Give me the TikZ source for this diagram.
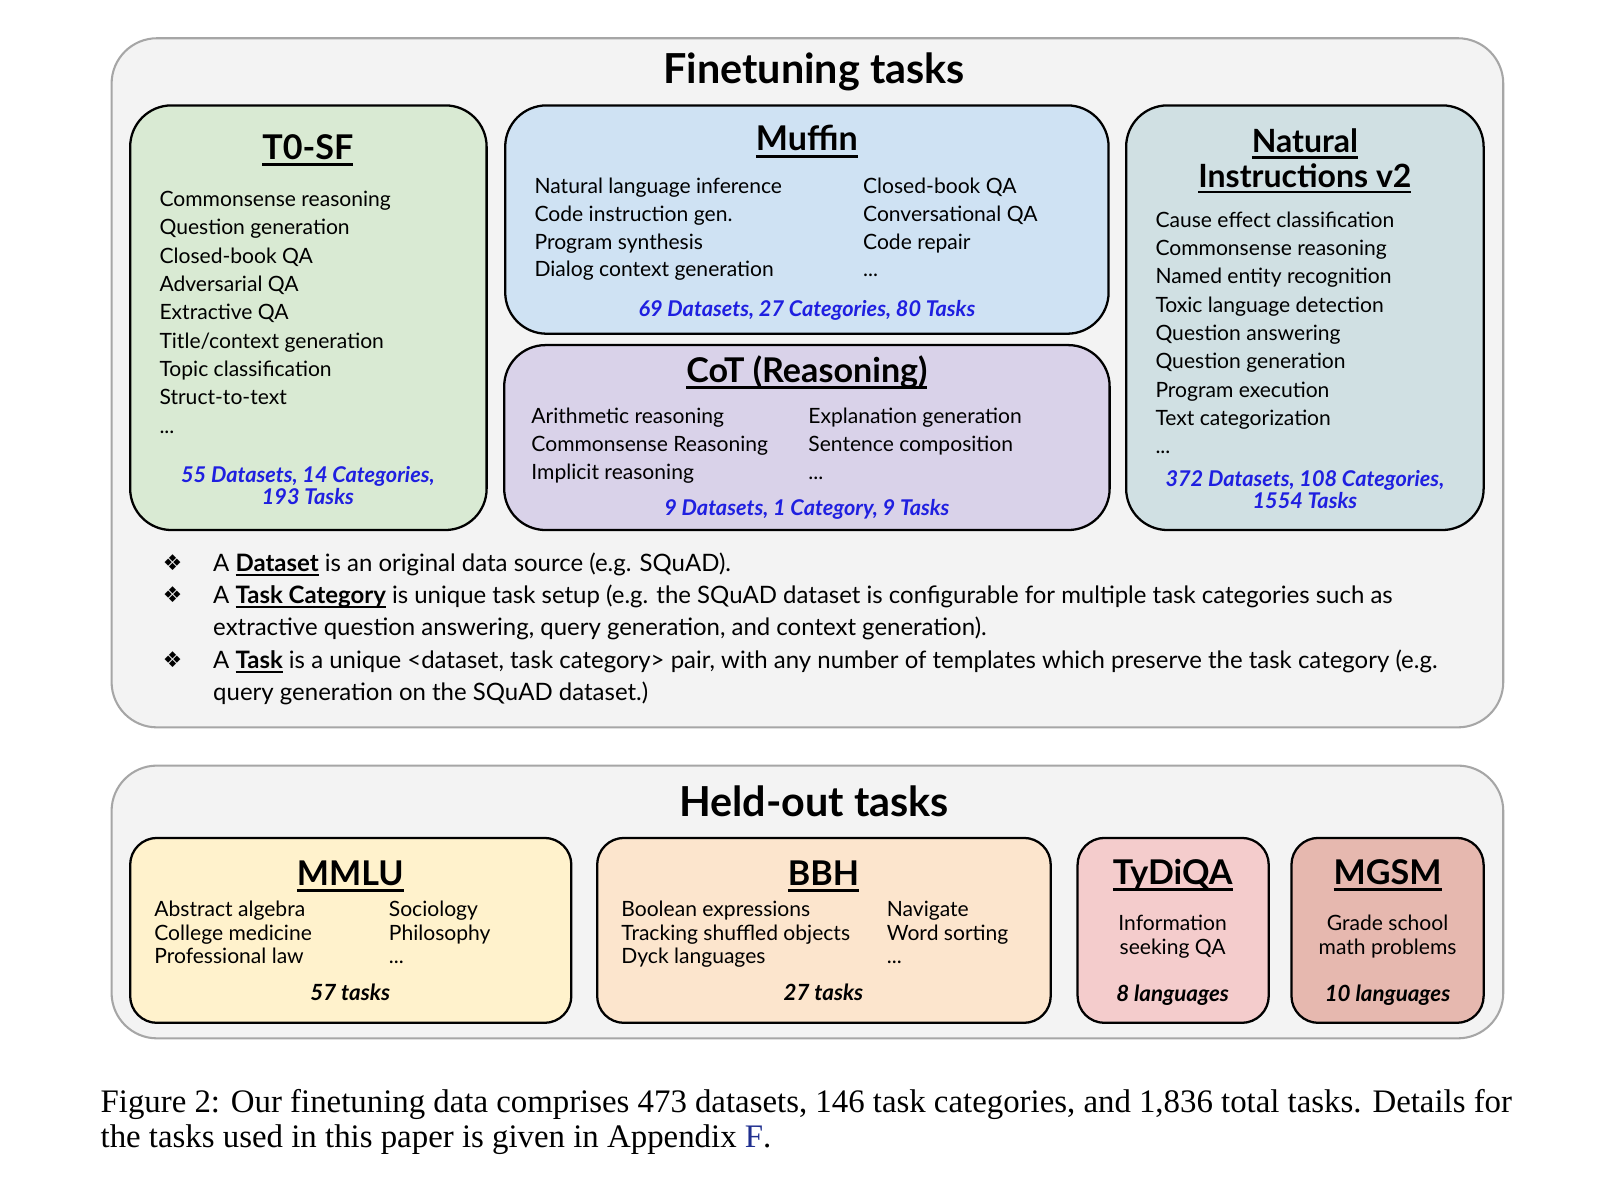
\documentclass[tikz,border=0pt]{standalone}
\usepackage{fontspec}
\setmainfont{Lato}
\newfontfamily\capfont{Liberation Serif}
\newfontfamily\symfont{DejaVu Sans}
\usetikzlibrary{fit}
\definecolor{outerfill}{HTML}{F3F3F3}
\definecolor{outerline}{HTML}{A6A6A6}
\definecolor{cgreen}{HTML}{D9EAD3}
\definecolor{cblue}{HTML}{CFE2F3}
\definecolor{cpurple}{HTML}{D9D2E9}
\definecolor{cteal}{HTML}{D0E0E3}
\definecolor{cyellow}{HTML}{FFF2CC}
\definecolor{corange}{HTML}{FCE5CD}
\definecolor{cpink}{HTML}{F4CCCC}
\definecolor{csalmon}{HTML}{E6B8AF}
\definecolor{footblue}{HTML}{1F1FE0}
\definecolor{linkblue}{HTML}{1F2F8F}
\newcommand\myul[1]{\setbox0=\hbox{#1}\rlap{\rule[-0.2em]{\wd0}{0.09em}}\box0\relax}
\newcommand\dts{...}
\tikzset{
  outer/.style={draw=outerline, fill=outerfill, line width=1pt, rounded corners=22pt, inner sep=0pt},
  tbox/.style={draw=black, line width=1.1pt, rounded corners=20pt, inner sep=0pt},
  hbox/.style={draw=black, line width=1.1pt, rounded corners=13pt, inner sep=0pt},
  item/.style={font=\fontsize{10.2}{12}\selectfont, anchor=base west, inner sep=0pt},
  citem/.style={font=\fontsize{10.2}{12}\selectfont, anchor=base, inner sep=0pt},
  foot/.style={font=\fontsize{10.5}{12}\selectfont\bfseries\itshape, text=footblue, anchor=base, inner sep=0pt},
  hfoot/.style={font=\fontsize{10.8}{12}\selectfont\bfseries\itshape, anchor=base, inner sep=0pt},
  ttl/.style={font=\fontsize{16.5}{19}\selectfont\bfseries, anchor=base, inner sep=0pt},
  big/.style={font=\fontsize{20}{23}\selectfont\bfseries, anchor=base, inner sep=0pt},
  bul/.style={font=\fontsize{11.6}{13}\selectfont, anchor=base west, inner sep=0pt},
  bsym/.style={font=\symfont\fontsize{10.5}{12}\selectfont, anchor=base, inner sep=0pt},
}
\begin{document}
\begin{tikzpicture}[x=0.5pt,y=-0.5pt]
\useasboundingbox (0,0) rectangle (1568,1148);
\fill[white] (0,0) rectangle (1568,1148);

% ---------- Finetuning ----------
\node[outer, fit={(108,37)(1455,704)}] (fin) {};
\node[big] (fint) at (788,81) {Finetuning tasks};

\node[tbox, fill=cgreen, fit={(126,102)(471,513)}] (t0) {};
\node[ttl] (t0t) at (298,154) {\myul{T0-SF}};
\foreach \t [count=\i from 0] in {Commonsense reasoning, Question generation, Closed-book QA, Adversarial QA, Extractive QA, Title/context generation, Topic classification, Struct-to-text, \dts}
  \node[item] (t0i\i) at (154,200+27.4*\i) {\t};
\node[foot] (t0f1) at (298,467) {55 Datasets, 14 Categories,};
\node[foot] (t0f2) at (298,488) {193 Tasks};

\node[tbox, fill=cblue, fit={(489,102)(1073,323)}] (mu) {};
\node[ttl] (mut) at (781,146) {\myul{Muffin}};
\foreach \t [count=\i from 0] in {Natural language inference, Code instruction gen., Program synthesis, Dialog context generation}
  \node[item] (mua\i) at (517,187+27*\i) {\t};
\foreach \t [count=\i from 0] in {Closed-book QA, Conversational QA, Code repair, \dts}
  \node[item] (mub\i) at (835,187+27*\i) {\t};
\node[foot] (muf) at (781,306) {69 Datasets, 27 Categories, 80 Tasks};

\node[tbox, fill=cpurple, fit={(488,334)(1074,513)}] (cot) {};
\node[ttl] (cott) at (781,370) {\myul{CoT (Reasoning)}};
\foreach \t [count=\i from 0] in {Arithmetic reasoning, Commonsense Reasoning, Implicit reasoning}
  \node[item] (cota\i) at (514,410+27*\i) {\t};
\foreach \t [count=\i from 0] in {Explanation generation, Sentence composition, \dts}
  \node[item] (cotb\i) at (782,410+27*\i) {\t};
\node[foot] (cotf) at (781,499) {9 Datasets, 1 Category, 9 Tasks};

\node[tbox, fill=cteal, fit={(1090,102)(1436,513)}] (ni) {};
\node[ttl, font=\fontsize{15.5}{18}\selectfont\bfseries] (nit1) at (1263,148) {\myul{Natural}};
\node[ttl, font=\fontsize{15.5}{18}\selectfont\bfseries] (nit2) at (1263,181) {\myul{Instructions v2}};
\foreach \t [count=\i from 0] in {Cause effect classification, Commonsense reasoning, Named entity recognition, Toxic language detection, Question answering, Question generation, Program execution, Text categorization, \dts}
  \node[item] (nii\i) at (1118,220+27.4*\i) {\t};
\node[foot] (nif1) at (1263,471) {372 Datasets, 108 Categories,};
\node[foot] (nif2) at (1263,492) {1554 Tasks};

% bullets
\node[bsym] (s1) at (167,552) {❖};
\node[bsym] (s2) at (167,583) {❖};
\node[bsym] (s3) at (167,646) {❖};
\node[bul] (b1) at (206,553) {A \myul{\bfseries Dataset} is an original data source (e.g. SQuAD).};
\node[bul] (b2) at (206,584) {A \myul{\bfseries Task Category} is unique task setup (e.g. the SQuAD dataset is configurable for multiple task categories such as};
\node[bul] (b3) at (206,615) {extractive question answering, query generation, and context generation).};
\node[bul] (b4) at (206,647) {A \myul{\bfseries Task} is a unique <dataset, task category> pair, with any number of templates which preserve the task category (e.g.};
\node[bul] (b5) at (206,678) {query generation on the SQuAD dataset.)};

% ---------- Held-out ----------
\node[outer, fit={(108,741)(1455,1005)}] (held) {};
\node[big] (heldt) at (788,790) {Held-out tasks};

\node[hbox, fill=cyellow, fit={(126,811)(553,990)}] (mmlu) {};
\node[ttl] (mmlut) at (339,857) {\myul{MMLU}};
\foreach \t [count=\i from 0] in {Abstract algebra, College medicine, Professional law}
  \node[item] (mma\i) at (149,887+23*\i) {\t};
\foreach \t [count=\i from 0] in {Sociology, Philosophy, \dts}
  \node[item] (mmb\i) at (376,887+23*\i) {\t};
\node[hfoot] (mmf) at (339,968) {57 tasks};

\node[hbox, fill=corange, fit={(578,811)(1017,990)}] (bbh) {};
\node[ttl] (bbht) at (797,857) {\myul{BBH}};
\foreach \t [count=\i from 0] in {Boolean expressions, Tracking shuffled objects, Dyck languages}
  \node[item] (bba\i) at (601,887+23*\i) {\t};
\foreach \t [count=\i from 0] in {Navigate, Word sorting, \dts}
  \node[item] (bbb\i) at (858,887+23*\i) {\t};
\node[hfoot] (bbf) at (797,968) {27 tasks};

\node[hbox, fill=cpink, fit={(1043,811)(1228,990)}] (ty) {};
\node[ttl] (tyt) at (1135,856) {\myul{TyDiQA}};
\node[citem] (ty1) at (1135,901) {Information};
\node[citem] (ty2) at (1135,924) {seeking QA};
\node[hfoot] (tyf) at (1135,969) {8 languages};

\node[hbox, fill=csalmon, fit={(1250,811)(1436,990)}] (mg) {};
\node[ttl] (mgt) at (1343,856) {\myul{MGSM}};
\node[citem] (mg1) at (1343,901) {Grade school};
\node[citem] (mg2) at (1343,924) {math problems};
\node[hfoot] (mgf) at (1343,969) {10 languages};

% caption
\node[anchor=base west, inner sep=0pt, font=\capfont\fontsize{15.9}{18}\selectfont] (cap1) at (97,1077)
  {\hbox to 683pt{Figure 2: Our finetuning data comprises 473 datasets, 146 task categories, and 1,836 total tasks. Details for}};
\node[anchor=base west, inner sep=0pt, font=\capfont\fontsize{15.9}{18}\selectfont] (cap2) at (97,1111)
  {the tasks used in this paper is given in Appendix \textcolor{linkblue}{F}.};
\end{tikzpicture}
\end{document}
